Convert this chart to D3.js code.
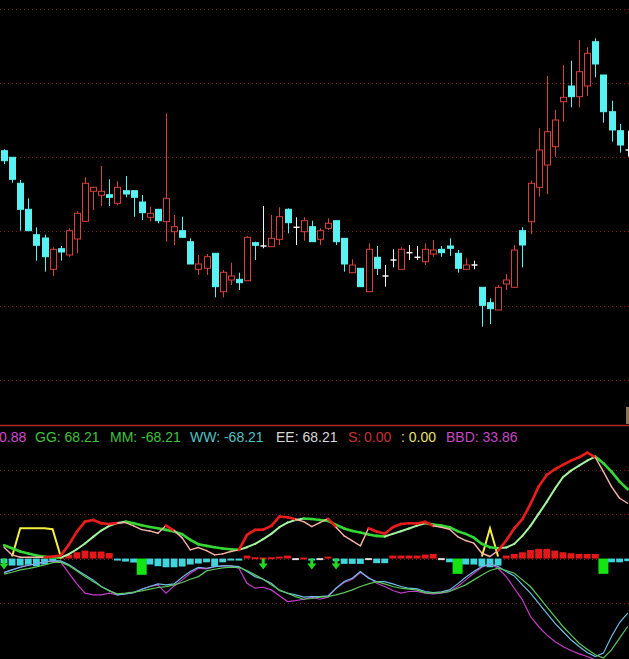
<!DOCTYPE html>
<html><head><meta charset="utf-8">
<script src="https://cdn.jsdelivr.net/npm/d3@7"></script>
<style>html,body{margin:0;padding:0;background:#000;overflow:hidden}</style>
</head><body><svg id="c" width="629" height="659"></svg>
<script>
// ---------- price data (one entry per bar) ----------
const opens  = [34.93,34.27,31.67,29.07,26.53,26.2,23.07,25.13,24.5,26.1,27.87,30.87,30.47,30.53,29.67,30.93,30.93,29.8,28.27,29.07,
  27.83,26.83,26.93,25.83,23.07,23.17,24.67,20.83,22.0,22.07,21.93,25.73,25.4,25.33,26.07,29.07,27.27,26.83,27.33,26.07,
  27.17,27.93,26.17,22.73,23.17,20.83,24.27,22.4,24.0,23.07,24.73,24.27,23.83,24.6,25.07,25.4,24.67,23.07,23.5,21.27,
  19.73,19.0,21.6,21.27,26.93,27.83,31.27,33.5,35.33,39.83,41.4,40.33,41.4,45.83,42.5,38.83,36.93,35.0];
const highs  = [35.07,34.27,32.0,30.17,27.27,26.53,25.27,25.4,27.17,28.87,32.27,31.33,33.4,32.07,31.87,32.4,30.93,30.5,29.33,29.07,
  38.67,28.5,28.33,26.17,24.5,24.6,24.67,23.0,23.73,22.73,26.4,25.83,29.4,28.5,29.27,29.17,28.27,28.27,27.93,27.17,
  28.17,27.93,26.17,24.07,23.17,25.67,25.4,23.5,25.07,25.27,25.5,25.4,25.67,26.0,25.4,26.17,25.0,24.17,23.93,21.27,
  20.17,21.5,22.6,25.5,27.27,31.93,37.17,42.4,39.0,43.5,43.93,46.0,45.27,46.17,42.5,39.93,37.6,36.93];
const lows   = [33.6,31.73,26.93,26.9,23.93,22.83,22.4,23.93,24.33,24.67,27.8,29.0,29.4,29.4,29.47,30.27,28.33,28.0,27.87,27.67,
  25.83,25.5,26.2,23.6,22.5,22.5,20.27,20.27,21.5,21.0,21.93,24.0,25.17,25.33,25.5,26.67,25.5,25.93,25.83,25.5,
  27.0,25.5,22.83,22.73,21.33,20.83,22.5,21.33,23.27,23.07,24.0,24.0,23.5,24.33,24.33,24.4,22.73,23.07,23.07,17.33,
  17.6,19.0,21.0,21.27,23.27,26.6,30.33,30.6,34.33,37.83,39.27,39.27,40.4,42.27,37.73,35.83,34.73,34.33];
const closes = [33.93,32.07,29.07,26.93,25.47,24.33,25.07,24.8,26.93,28.67,31.67,31.27,30.87,30.27,31.27,30.6,30.27,28.73,28.67,27.93,
  30.17,27.33,26.27,23.6,23.6,24.33,21.33,22.77,22.4,21.73,26.27,25.47,25.4,26.17,28.33,27.73,27.27,27.93,25.83,26.93,
  27.67,25.83,23.6,23.5,21.33,25.07,23.17,22.4,24.0,25.07,24.73,24.27,25.07,25.0,24.73,25.17,23.17,23.5,23.5,19.47,
  19.13,21.27,22.0,25.0,25.5,31.67,35.0,36.83,38.0,40.27,40.33,42.83,44.67,43.6,38.83,37.0,35.5,35.0];
const priceGrid = [49.1, 41.7, 34.3, 26.9, 19.4, 12.0];

// ---------- indicator data ----------
const lineG = [15,11.6,7.9,5.6,3.4,1.9,1.5,1.1,4.9,10.5,16.9,24.4,31.5,36.8,40.1,41.6,39.8,37.5,35.6,34.1,
  32.3,30.4,27.4,21,16.1,14.3,12.8,11.3,10.5,9.8,12.8,16.5,21.8,27.8,35.3,40.5,43.5,45,44.6,43.5,
  42.4,37.9,33.8,31.1,29.3,27,25.5,24.8,27.8,30.8,33.8,37.1,39.8,38.3,37.1,35.3,30.8,27.8,23.6,16.5,
  12.8,11.6,12.4,16.5,25.5,36.8,50.3,63.8,78.4,91.5,99,104.6,110.3,114.8,107.3,97.9,86.6,78];
const lineK = [12.8,4.1,1.5,1.5,1.5,1.5,2.3,3.4,15.4,30.4,41.6,43.5,39.8,39,40,40.5,36.8,32.6,31.1,28.5,
  37.1,31.5,23.3,9.8,12.4,9,4.1,5.3,7.9,9.8,26.6,32.3,32.6,36.8,47.3,46.5,44.3,41.6,36,40.5,
  45,35.3,25.5,19.9,14.3,34.1,30.4,27.8,35.3,39,39.8,39.4,41.3,36.8,35.3,33,24.8,20.3,17.3,6,
  2.3,9,20.3,34.1,44.3,61.5,81,94.1,100.5,105.4,110.3,114,119.3,114,97.9,81,67.9,62.3];
const lineY = [null,2.3,34.1,34.1,34.1,34.1,33,2.3,null,null,null,null,null,null,null,null,null,null,null,null,
  null,null,null,null,null,null,null,null,null,null,null,null,null,null,null,null,null,null,null,null,
  null,null,null,null,null,null,null,null,null,null,null,null,null,null,null,null,null,null,null,2.3,
  34.1,2.3,null,null,null,null,null,null,null,null,null,null,null,null,null,null,null,null];
const lineB = [-15.8,-12.8,-9.8,-7.5,-6,-3.8,-2.3,-2.6,-6.8,-12.8,-18.4,-24,-31.5,-36,-40.9,-39.8,-38.3,-34.5,-31.5,-28.5,
  -29.6,-28.5,-21,-14.6,-9.8,-10.9,-9,-8.3,-8.3,-9,-14.6,-20.3,-23.3,-27.8,-36,-39,-40.9,-43.5,-42.8,-42.8,
  -42,-33.4,-25.9,-22.1,-14.6,-22.1,-25.9,-25.9,-28.5,-31.5,-33.4,-34.1,-37.1,-38.3,-37.5,-35.3,-28.5,-21,-14.6,-9,
  -6,-9,-14.6,-19.5,-29.6,-39,-50.3,-61.5,-72.8,-82.1,-91.5,-99,-105.8,-110.3,-106.5,-87.8,-72,-61.5];
const lineT = [-17.6,-15.4,-12.8,-11.3,-9.4,-7.1,-4.5,-4.1,-7.9,-13.9,-20.3,-25.9,-31.5,-36.4,-39.8,-39,-37.9,-36.4,-34.5,-32.6,
  -31.5,-29.6,-27,-23.3,-20.3,-13.9,-12,-10.5,-9.8,-10.1,-13.5,-18.4,-23.3,-29.6,-35.3,-39,-42.8,-45.8,-45,-43.5,
  -42.8,-40.9,-38.3,-35.3,-31.5,-28.5,-25.9,-28.5,-31.5,-33.4,-34.5,-35.6,-38.3,-39,-38.3,-37.1,-33.4,-29.6,-24,-18.4,
  -13.5,-10.9,-13.5,-16.5,-24,-31.5,-42.8,-54,-65.3,-76.5,-85.9,-95.3,-102,-108.4,-112.1,-102.8,-89.6,-76.5];
const lineM = [-15.8,-12.8,-9.8,-7.5,-6,-3.8,-3,-3.8,-16.5,-28.5,-39,-40.9,-40.9,-39,-40.9,-39.8,-38.3,-34.5,-31.5,-29.6,
  -39,-30.8,-24,-16.5,-10.9,-11.6,-9,-8.3,-8.3,-10.9,-27.8,-33.4,-32.3,-35.3,-42,-48.4,-47.3,-45.8,-43.5,-45.8,
  -43.5,-33.4,-27,-23.3,-15.8,-21,-27.8,-31.5,-36,-39,-37.1,-37.1,-39,-39.8,-39,-37.1,-31.5,-24,-16.5,-9.8,
  -6,-10.9,-20.3,-33.4,-46.5,-65.3,-76.5,-85.9,-93.4,-99,-103.5,-107.3,-110.3,-114,-117.8,-121.5,-125,-129];
const hist = [-5,-7.9,-7.9,-7,-8.6,-6.7,-2,2,4.5,7.1,9,7.9,7.9,6.2,-2.2,-3.4,-4.5,-18.3,-6.7,-8.6,
  -9.8,-9.8,-9,-6.7,-5.6,-4.2,-9,-4.2,-2.2,-1.5,3.4,1.5,1.2,1.5,2.2,3.4,0.5,1.2,-1.2,0.5,
  2.2,-3,-6,-6,-6,0.5,-5.2,-5.2,3.4,3.4,3.4,3.4,4.5,5.2,0.5,-4.2,-17.2,-6.7,-6.7,-9,
  -9.8,-7.9,3.4,5.2,7.1,9.7,10.9,10.9,9,7.1,6,5.2,5.2,5.2,-17.2,-4.2,-4.2,-3];
const greenBars = [17, 56, 74];
const arrowBars = [0, 32, 38, 41];
const indGrid = [100, 50, 0, -50];

const legendItems = [
  {t:"0.88", c:"#d448d4", x:-1},
  {t:"GG: 68.21", c:"#3cc43c", x:35},
  {t:"MM: -68.21", c:"#3cc43c", x:110},
  {t:"WW: -68.21", c:"#4cc4c4", x:190},
  {t:"EE: 68.21", c:"#d8d8d8", x:276},
  {t:"S:", c:"#c83030", x:348},
  {t:"0.00", c:"#c83030", x:364},
  {t:": 0.00", c:"#e8e070", x:401},
  {t:"BBD: 33.86", c:"#c448c4", x:446}
];

// ---------- drawing ----------
const W = 629, H = 659;
const svg = d3.select("#c");
svg.append("rect").attr("width", W).attr("height", H).attr("fill", "#000");

const n = opens.length;
const xs = d3.scaleLinear().domain([0, n - 1]).range([4, 627.7]);
const yP = d3.scaleLinear().domain([7.4, 50]).range([426, 0]);
const yI = d3.scaleLinear().domain([-113.1, 133.5]).range([659, 440]);

const defs = svg.append("defs");
defs.append("clipPath").attr("id","top").append("rect").attr("x",0).attr("y",0).attr("width",W).attr("height",424);
defs.append("clipPath").attr("id","bot").append("rect").attr("x",0).attr("y",443).attr("width",W).attr("height",H-443);

// upper grid
svg.append("g").selectAll("line").data(priceGrid).join("line")
  .attr("x1", 0).attr("x2", W).attr("y1", d => Math.round(yP(d)) + 0.5).attr("y2", d => Math.round(yP(d)) + 0.5)
  .attr("stroke", "#7e1e1e").attr("stroke-dasharray", "1,3");

// candles
const RED = "#d8403c", CYAN = "#58f2f2", WHITE = "#f4f4f4";
const cg = svg.append("g").attr("clip-path","url(#top)");
const bars = d3.range(n).map(i => ({i, o: opens[i], h: highs[i], l: lows[i], c: closes[i]}));
const colOf = d => d.c > d.o ? RED : (d.c < d.o ? CYAN : WHITE);
const bw = 6;
cg.selectAll(".wick").data(bars).join("line")
  .attr("x1", d => Math.round(xs(d.i)) + 0.5).attr("x2", d => Math.round(xs(d.i)) + 0.5)
  .attr("y1", d => yP(d.h)).attr("y2", d => yP(d.l))
  .attr("stroke", colOf).attr("stroke-width", 1);
cg.selectAll(".body").data(bars.filter(d => d.c !== d.o)).join("rect")
  .attr("x", d => Math.round(xs(d.i)) - bw/2 + 0.5).attr("width", bw)
  .attr("y", d => yP(Math.max(d.o, d.c))).attr("height", d => Math.max(1, Math.abs(yP(d.o) - yP(d.c))))
  .attr("fill", d => d.c > d.o ? "#000" : CYAN)
  .attr("stroke", colOf).attr("stroke-width", 1);
cg.selectAll(".doji").data(bars.filter(d => d.c === d.o)).join("line")
  .attr("x1", d => Math.round(xs(d.i)) - bw/2 + 0.5).attr("x2", d => Math.round(xs(d.i)) + bw/2 + 0.5)
  .attr("y1", d => yP(d.o)).attr("y2", d => yP(d.o))
  .attr("stroke", WHITE).attr("stroke-width", 1.5);

// separator
svg.append("line").attr("x1",0).attr("x2",W).attr("y1",425.5).attr("y2",425.5)
  .attr("stroke","#b02828").attr("stroke-width",1.5);
svg.append("rect").attr("x",626).attr("y",407).attr("width",3).attr("height",17).attr("fill","#8c7452");

// lower panel
const lg = svg.append("g").attr("clip-path","url(#bot)");
lg.selectAll(".ig").data(indGrid).join("line")
  .attr("x1",0).attr("x2",W).attr("y1", d => Math.round(yI(d)) + 0.5).attr("y2", d => Math.round(yI(d)) + 0.5)
  .attr("stroke","#7e1e1e").attr("stroke-dasharray","1,3");

// histogram
const y0 = yI(0);
lg.selectAll(".hb").data(hist.map((v,i)=>({v,i}))).join("rect")
  .attr("x", d => xs(d.i) - (greenBars.includes(d.i) ? 5 : 3.4))
  .attr("width", d => greenBars.includes(d.i) ? 10 : 6.8)
  .attr("y", d => Math.min(yI(d.v), y0))
  .attr("height", d => Math.max(2, Math.abs(yI(d.v) - y0)))
  .attr("fill", d => greenBars.includes(d.i) ? "#14e414" : Math.abs(d.v) < 1 ? "#dcdcdc" : d.v > 0 ? "#e41818" : "#40d4dc");

// arrows
lg.selectAll(".arr").data(arrowBars).join("path")
  .attr("d", i => { const x = xs(i); return `M${x-1.5},${y0}L${x+1.5},${y0}L${x+1.5},${y0+5}L${x+4.5},${y0+5}L${x},${y0+11}L${x-4.5},${y0+5}L${x-1.5},${y0+5}Z`; })
  .attr("fill","#22d822");

// lower thin lines
const ln = d3.line().defined(d => d != null).x((d,i) => xs(i)).y(d => yI(d));
lg.append("path").attr("d", ln(lineM)).attr("fill","none").attr("stroke","#c43cc8").attr("stroke-width",1.2);
lg.append("path").attr("d", ln(lineB)).attr("fill","none").attr("stroke","#6cc0e8").attr("stroke-width",1.2);
lg.append("path").attr("d", ln(lineT)).attr("fill","none").attr("stroke","#5cc85c").attr("stroke-width",1.2);
lg.append("path").attr("d", ln(lineY)).attr("fill","none").attr("stroke","#f4f040").attr("stroke-width",2);

// G line: colour by direction
const segG = d3.range(n - 1).map(i => ({i, a: lineG[i], b: lineG[i+1]}));
lg.selectAll(".sg").data(segG).join("line")
  .attr("x1", d => xs(d.i)).attr("x2", d => xs(d.i + 1))
  .attr("y1", d => yI(d.a)).attr("y2", d => yI(d.b))
  .attr("stroke", d => d.b > d.a ? "#a4f4a0" : "#34d834")
  .attr("stroke-width", d => d.b > d.a ? 2 : 2.6).attr("stroke-linecap","round");

// K line: red above G, pink below
const segK = d3.range(n - 1).map(i => ({i, a: lineK[i], b: lineK[i+1], up: (lineK[i] + lineK[i+1]) >= (lineG[i] + lineG[i+1])}));
lg.selectAll(".sk").data(segK).join("line")
  .attr("x1", d => xs(d.i)).attr("x2", d => xs(d.i + 1))
  .attr("y1", d => yI(d.a)).attr("y2", d => yI(d.b))
  .attr("stroke", d => d.up ? "#ec1c1c" : "#f8b4a4")
  .attr("stroke-width", d => d.up ? 2.6 : 1.4).attr("stroke-linecap","round");

// legend
svg.append("g").selectAll("text").data(legendItems).join("text")
  .attr("x", d => d.x).attr("y", 441.5)
  .attr("fill", d => d.c)
  .attr("font-family", "Liberation Sans, Arial, sans-serif")
  .attr("font-size", 14)
  .text(d => d.t);
</script></body></html>
